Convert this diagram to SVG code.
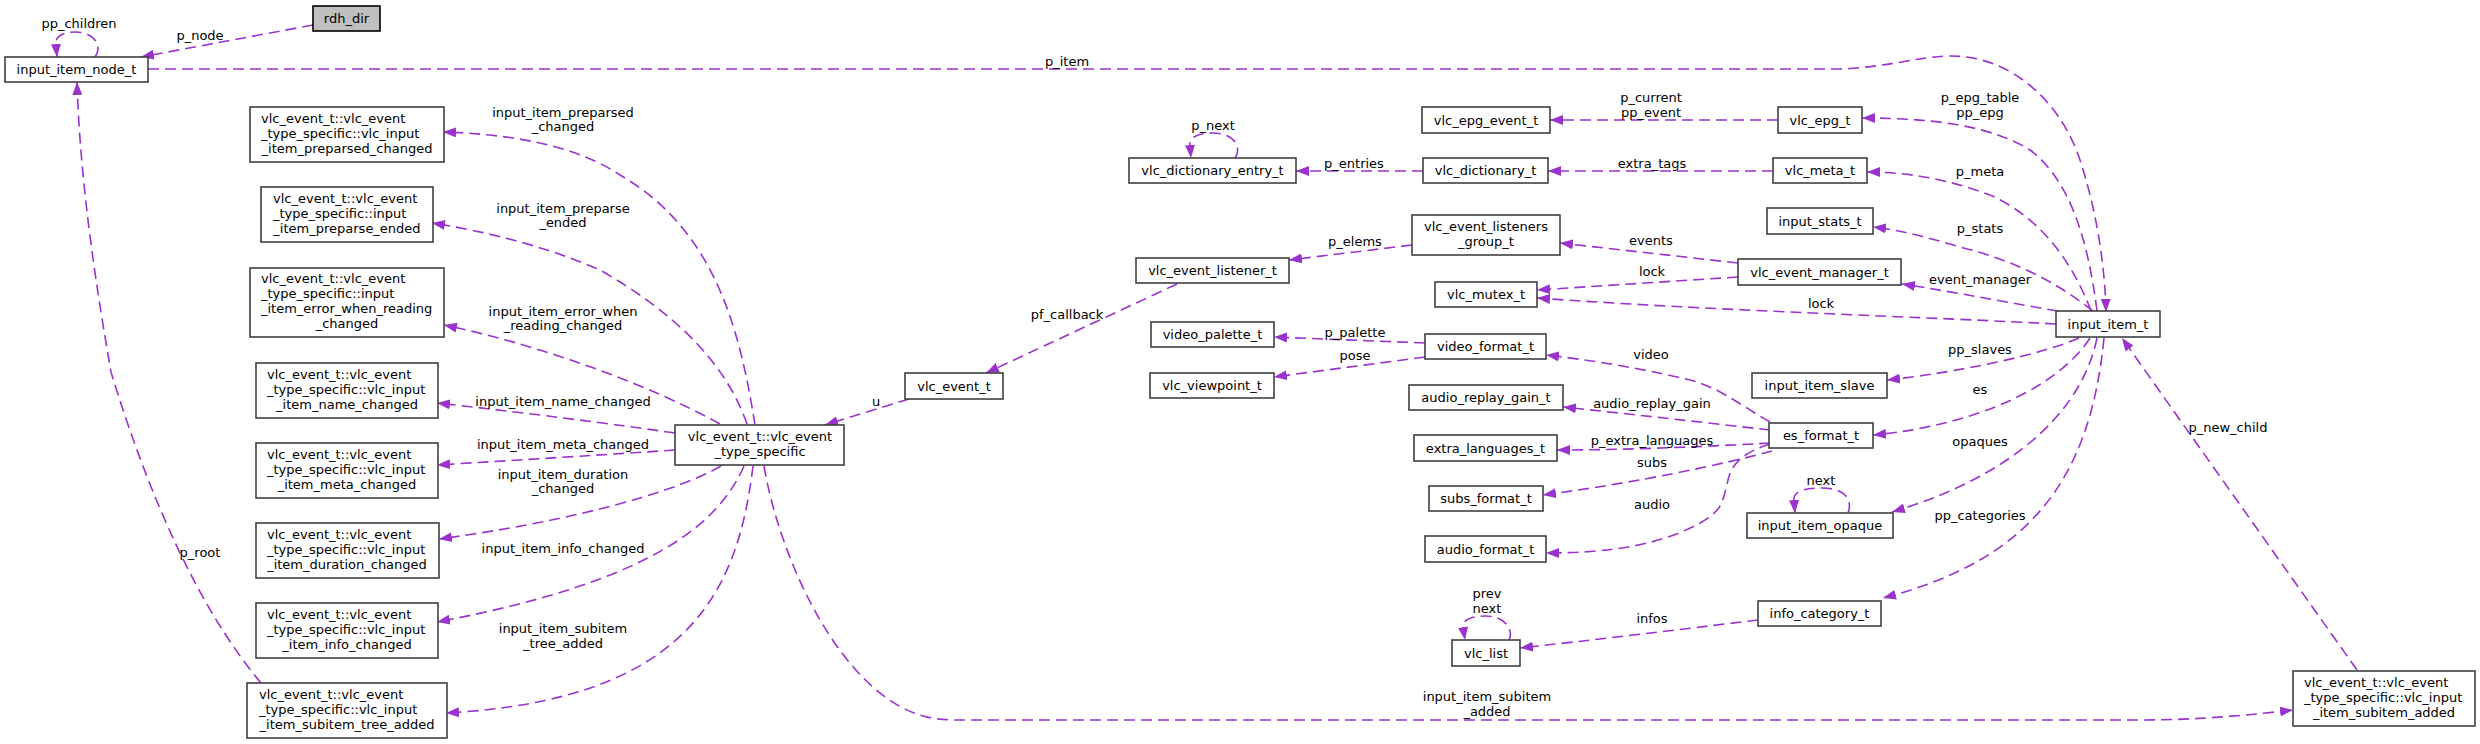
<svg xmlns="http://www.w3.org/2000/svg" width="2480" height="744" viewBox="0 0 2480 744">
<style>
.e{fill:none;stroke:#9a32cd;stroke-width:1.6;stroke-dasharray:11,6;marker-end:url(#ah)}
.b{fill:#fff;stroke:#404040;stroke-width:1.6}
.g{fill:#bfbfbf;stroke:#000;stroke-width:1.6}
text{font-family:"DejaVu Sans","Liberation Sans",sans-serif;font-size:13px;fill:#000}
.c{text-anchor:middle}
</style>
<defs>
<marker id="ah" viewBox="0 0 13 10" refX="13" refY="5" markerWidth="13" markerHeight="10" orient="auto" markerUnits="userSpaceOnUse"><path d="M0,0 L13,5 L0,10 z" fill="#9a32cd"/></marker>
</defs>
<rect width="2480" height="744" fill="#fff"/>
<g id="edges">
<path class="e" d="M313,25 L141,57"/>
<path class="e" d="M95,57 C103,46 94,32 76,32 C62,32 55,37 56,44 L57,57"/>
<path class="e" d="M148,69 L1840,69 C1890,67 1920,56 1951,56 C2010,56 2060,100 2080,160 C2098,215 2105,270 2106,312"/>
<path class="e" d="M2097,311 C2088,240 2070,180 2030,150 C1990,125 1930,118 1862,118"/>
<path class="e" d="M2091,311 C2070,255 2035,215 1990,195 C1950,180 1910,172 1867,172"/>
<path class="e" d="M2093,311 C2060,285 2020,262 1960,247 C1930,238 1900,230 1873,227"/>
<path class="e" d="M2058,311 C2010,303 1960,293 1902,284"/>
<path class="e" d="M2056,324 C1950,318 1700,310 1537,298"/>
<path class="e" d="M2079,338 C2040,355 1960,372 1887,380"/>
<path class="e" d="M2090,338 C2060,385 1980,425 1873,435"/>
<path class="e" d="M2097,338 C2080,420 2000,480 1892,512"/>
<path class="e" d="M2104,338 C2090,480 2030,560 1883,598"/>
<path class="e" d="M2357,670 L2122,338"/>
<path class="e" d="M764,466 C780,560 840,690 920,715 C935,720 950,720 960,720 L2140,720 C2200,720 2250,715 2293,710"/>
<path class="e" d="M1778,120 L1550,120"/>
<path class="e" d="M1773,171 L1548,171"/>
<path class="e" d="M1423,171 L1296,171"/>
<path class="e" d="M1235,158 C1242,148 1235,133 1213,133 C1197,133 1189,138 1190,145 L1191,158"/>
<path class="e" d="M1412,245 L1289,260"/>
<path class="e" d="M1738,263 L1560,243"/>
<path class="e" d="M1738,277 L1537,290"/>
<path class="e" d="M1425,343 L1274,337"/>
<path class="e" d="M1425,357 L1274,377"/>
<path class="e" d="M1770,422 C1740,405 1720,388 1690,380 C1640,368 1590,360 1546,355"/>
<path class="e" d="M1770,430 C1700,422 1620,413 1563,407"/>
<path class="e" d="M1770,443 C1700,447 1620,450 1557,450"/>
<path class="e" d="M1772,451 C1720,465 1640,482 1543,495"/>
<path class="e" d="M1770,444 C1745,452 1732,462 1728,480 C1722,505 1722,510 1700,523 C1660,545 1610,553 1546,553"/>
<path class="e" d="M1848,513 C1853,500 1845,488 1822,488 C1803,488 1793,492 1794,500 L1795,513"/>
<path class="e" d="M1509,640 C1514,630 1505,616 1486,616 C1470,616 1462,621 1463,627 L1465,640"/>
<path class="e" d="M1758,620 C1700,627 1620,637 1520,648"/>
<path class="e" d="M1177,284 L986,373"/>
<path class="e" d="M909,399 L825,425"/>
<path class="e" d="M755,425 C740,330 715,230 620,175 C575,145 510,134 443,132"/>
<path class="e" d="M747,424 C725,360 670,310 600,270 C550,248 490,232 432,223"/>
<path class="e" d="M720,424 C650,385 540,345 444,325"/>
<path class="e" d="M675,433 C620,425 520,412 437,403"/>
<path class="e" d="M675,450 C600,455 520,460 437,465"/>
<path class="e" d="M721,466 C680,490 580,520 439,539"/>
<path class="e" d="M744,466 C720,520 660,580 437,622"/>
<path class="e" d="M753,466 C738,590 690,700 446,713"/>
<path class="e" d="M261,683 C200,610 150,500 111,372 C95,280 80,180 77,82"/>
<g id="edge-labels">
<text class="c" x="79" y="27.5">pp_children</text>
<text class="c" x="200" y="39.5">p_node</text>
<text class="c" x="1067" y="65.5">p_item</text>
<text class="c" x="563" y="116.5">input_item_preparsed</text>
<text class="c" x="563" y="131">_changed</text>
<text class="c" x="563" y="212.5">input_item_preparse</text>
<text class="c" x="563" y="226.5">_ended</text>
<text class="c" x="563" y="315.5">input_item_error_when</text>
<text class="c" x="563" y="329.5">_reading_changed</text>
<text class="c" x="563" y="405.5">input_item_name_changed</text>
<text class="c" x="563" y="448.5">input_item_meta_changed</text>
<text class="c" x="563" y="478.5">input_item_duration</text>
<text class="c" x="563" y="492.5">_changed</text>
<text class="c" x="563" y="552.5">input_item_info_changed</text>
<text class="c" x="563" y="632.5">input_item_subitem</text>
<text class="c" x="563" y="647.5">_tree_added</text>
<text class="c" x="200" y="556.5">p_root</text>
<text class="c" x="876" y="405.5">u</text>
<text class="c" x="1067" y="318.5">pf_callback</text>
<text class="c" x="1213" y="129.5">p_next</text>
<text class="c" x="1651" y="101.5">p_current</text>
<text class="c" x="1651" y="116.5">pp_event</text>
<text class="c" x="1354" y="167.5">p_entries</text>
<text class="c" x="1652" y="167.5">extra_tags</text>
<text class="c" x="1355" y="245.5">p_elems</text>
<text class="c" x="1651" y="244.5">events</text>
<text class="c" x="1652" y="275.5">lock</text>
<text class="c" x="1821" y="307.5">lock</text>
<text class="c" x="1355" y="336.5">p_palette</text>
<text class="c" x="1355" y="359.5">pose</text>
<text class="c" x="1651" y="358.5">video</text>
<text class="c" x="1652" y="407.5">audio_replay_gain</text>
<text class="c" x="1652" y="444.5">p_extra_languages</text>
<text class="c" x="1652" y="466.5">subs</text>
<text class="c" x="1652" y="508.5">audio</text>
<text class="c" x="1821" y="484.5">next</text>
<text class="c" x="1487" y="597.5">prev</text>
<text class="c" x="1487" y="612.5">next</text>
<text class="c" x="1652" y="622.5">infos</text>
<text class="c" x="1487" y="700.5">input_item_subitem</text>
<text class="c" x="1487" y="715.5">_added</text>
<text class="c" x="1980" y="101.5">p_epg_table</text>
<text class="c" x="1980" y="116.5">pp_epg</text>
<text class="c" x="1980" y="175.5">p_meta</text>
<text class="c" x="1980" y="232.5">p_stats</text>
<text class="c" x="1980" y="283.5">event_manager</text>
<text class="c" x="1980" y="353.5">pp_slaves</text>
<text class="c" x="1980" y="393.5">es</text>
<text class="c" x="1980" y="445.5">opaques</text>
<text class="c" x="1980" y="519.5">pp_categories</text>
<text class="c" x="2228" y="431.5">p_new_child</text>
</g>
</g>
<g id="rdh_dir"><rect class="g" x="313" y="6" width="67" height="25"/><text class="c" x="346.5" y="23">rdh_dir</text></g>
<g id="input_item_node_t"><rect class="b" x="5" y="57" width="143" height="25"/><text class="c" x="76.5" y="73.5">input_item_node_t</text></g>
<g id="preparsed_changed"><rect class="b" x="250" y="107" width="194" height="55"/><text x="261" y="122.5">vlc_event_t::vlc_event</text><text x="261" y="137.5">_type_specific::vlc_input</text><text class="c" x="347" y="152.5">_item_preparsed_changed</text></g>
<g id="preparse_ended"><rect class="b" x="261" y="187" width="172" height="55"/><text x="273" y="202.5">vlc_event_t::vlc_event</text><text x="273" y="217.5">_type_specific::input</text><text class="c" x="347" y="232.5">_item_preparse_ended</text></g>
<g id="error_when_reading_changed"><rect class="b" x="250" y="268" width="194" height="69"/><text x="261" y="283">vlc_event_t::vlc_event</text><text x="261" y="298">_type_specific::input</text><text x="261" y="313">_item_error_when_reading</text><text class="c" x="347" y="328">_changed</text></g>
<g id="name_changed"><rect class="b" x="256" y="363" width="182" height="55"/><text x="267" y="378.5">vlc_event_t::vlc_event</text><text x="267" y="393.5">_type_specific::vlc_input</text><text class="c" x="347" y="408.5">_item_name_changed</text></g>
<g id="meta_changed"><rect class="b" x="256" y="443" width="182" height="55"/><text x="267" y="458.5">vlc_event_t::vlc_event</text><text x="267" y="473.5">_type_specific::vlc_input</text><text class="c" x="347" y="488.5">_item_meta_changed</text></g>
<g id="duration_changed"><rect class="b" x="256" y="523" width="183" height="55"/><text x="267" y="538.5">vlc_event_t::vlc_event</text><text x="267" y="553.5">_type_specific::vlc_input</text><text class="c" x="347" y="568.5">_item_duration_changed</text></g>
<g id="info_changed"><rect class="b" x="256" y="603" width="182" height="55"/><text x="267" y="618.5">vlc_event_t::vlc_event</text><text x="267" y="633.5">_type_specific::vlc_input</text><text class="c" x="347" y="648.5">_item_info_changed</text></g>
<g id="subitem_tree_added"><rect class="b" x="247" y="683" width="200" height="55"/><text x="259" y="698.5">vlc_event_t::vlc_event</text><text x="259" y="713.5">_type_specific::vlc_input</text><text class="c" x="347" y="728.5">_item_subitem_tree_added</text></g>
<g id="type_specific"><rect class="b" x="675" y="425" width="169" height="40"/><text class="c" x="760" y="440.5">vlc_event_t::vlc_event</text><text class="c" x="760" y="455.5">_type_specific</text></g>
<g id="vlc_event_t"><rect class="b" x="905" y="373" width="98" height="26"/><text class="c" x="954" y="390.5">vlc_event_t</text></g>
<g id="vlc_event_listener_t"><rect class="b" x="1136" y="258" width="153" height="25"/><text class="c" x="1212.5" y="275">vlc_event_listener_t</text></g>
<g id="vlc_dictionary_entry_t"><rect class="b" x="1129" y="158" width="167" height="25"/><text class="c" x="1212.5" y="175">vlc_dictionary_entry_t</text></g>
<g id="video_palette_t"><rect class="b" x="1151" y="322" width="123" height="25"/><text class="c" x="1212.5" y="339">video_palette_t</text></g>
<g id="vlc_viewpoint_t"><rect class="b" x="1150" y="373" width="124" height="25"/><text class="c" x="1212" y="390">vlc_viewpoint_t</text></g>
<g id="vlc_epg_event_t"><rect class="b" x="1422" y="107" width="128" height="26"/><text class="c" x="1486" y="124.5">vlc_epg_event_t</text></g>
<g id="vlc_dictionary_t"><rect class="b" x="1423" y="158" width="125" height="25"/><text class="c" x="1485.5" y="175">vlc_dictionary_t</text></g>
<g id="vlc_event_listeners_group_t"><rect class="b" x="1412" y="215" width="148" height="40"/><text class="c" x="1486" y="230.5">vlc_event_listeners</text><text class="c" x="1486" y="245.5">_group_t</text></g>
<g id="vlc_mutex_t"><rect class="b" x="1435" y="282" width="102" height="25"/><text class="c" x="1486" y="299">vlc_mutex_t</text></g>
<g id="video_format_t"><rect class="b" x="1425" y="334" width="121" height="25"/><text class="c" x="1485.5" y="351">video_format_t</text></g>
<g id="audio_replay_gain_t"><rect class="b" x="1409" y="385" width="154" height="25"/><text class="c" x="1486" y="402">audio_replay_gain_t</text></g>
<g id="extra_languages_t"><rect class="b" x="1414" y="435" width="143" height="26"/><text class="c" x="1485.5" y="452.5">extra_languages_t</text></g>
<g id="subs_format_t"><rect class="b" x="1429" y="486" width="114" height="25"/><text class="c" x="1486" y="503">subs_format_t</text></g>
<g id="audio_format_t"><rect class="b" x="1425" y="536" width="121" height="26"/><text class="c" x="1485.5" y="553.5">audio_format_t</text></g>
<g id="vlc_list"><rect class="b" x="1452" y="640" width="68" height="26"/><text class="c" x="1486" y="657.5">vlc_list</text></g>
<g id="vlc_epg_t"><rect class="b" x="1778" y="107" width="84" height="26"/><text class="c" x="1820" y="124.5">vlc_epg_t</text></g>
<g id="vlc_meta_t"><rect class="b" x="1773" y="158" width="94" height="25"/><text class="c" x="1820" y="175">vlc_meta_t</text></g>
<g id="input_stats_t"><rect class="b" x="1767" y="208" width="106" height="26"/><text class="c" x="1820" y="225.5">input_stats_t</text></g>
<g id="vlc_event_manager_t"><rect class="b" x="1738" y="259" width="163" height="26"/><text class="c" x="1819.5" y="276.5">vlc_event_manager_t</text></g>
<g id="input_item_slave"><rect class="b" x="1752" y="373" width="135" height="25"/><text class="c" x="1819.5" y="390">input_item_slave</text></g>
<g id="es_format_t"><rect class="b" x="1769" y="423" width="104" height="25"/><text class="c" x="1821" y="440">es_format_t</text></g>
<g id="input_item_opaque"><rect class="b" x="1747" y="513" width="146" height="25"/><text class="c" x="1820" y="530">input_item_opaque</text></g>
<g id="info_category_t"><rect class="b" x="1758" y="601" width="123" height="25"/><text class="c" x="1819.5" y="618">info_category_t</text></g>
<g id="input_item_t"><rect class="b" x="2056" y="311" width="104" height="26"/><text class="c" x="2108" y="328.5">input_item_t</text></g>
<g id="subitem_added"><rect class="b" x="2293" y="671" width="182" height="55"/><text x="2304" y="686.5">vlc_event_t::vlc_event</text><text x="2304" y="701.5">_type_specific::vlc_input</text><text class="c" x="2384" y="716.5">_item_subitem_added</text></g>
</svg>
